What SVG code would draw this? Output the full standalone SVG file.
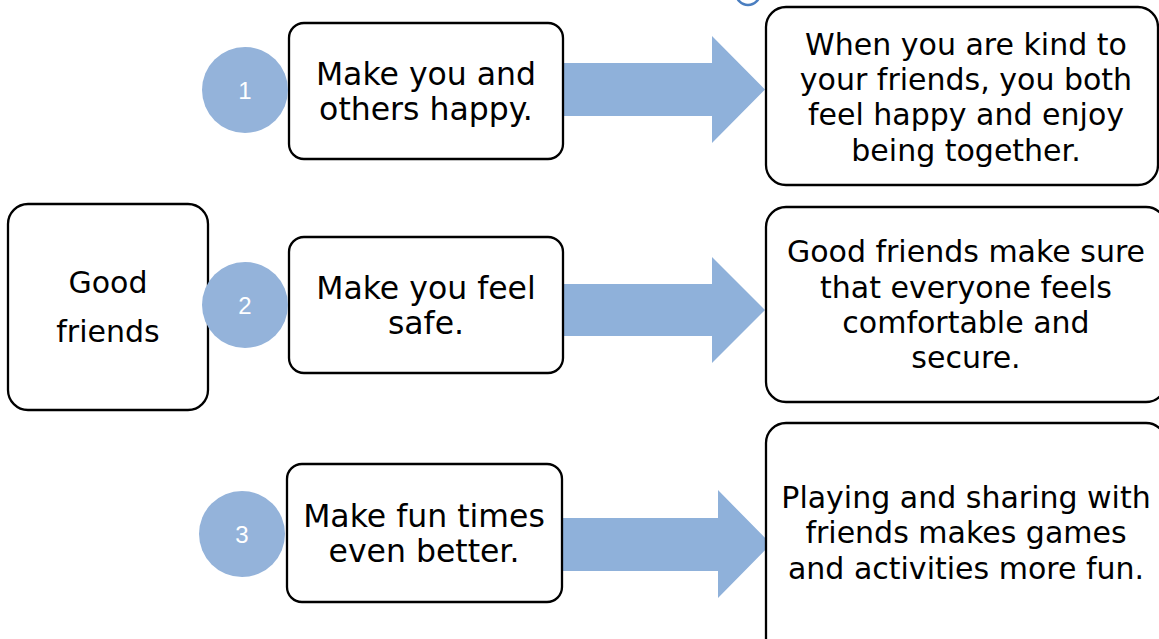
<svg xmlns="http://www.w3.org/2000/svg" width="1159" height="639" viewBox="0 0 1159 639">
<style>
.box{fill:#fff;stroke:#000;stroke-width:2.3}
.num{fill:#94B3DA}
.arrow{fill:#8FB1DA}
.t{font-family:"DejaVu Sans",sans-serif;font-size:30px;fill:#000;text-anchor:middle}
.tm{font-size:31.5px}
.n{font-family:"Liberation Sans",Arial,sans-serif;font-size:24px;fill:#fff;text-anchor:middle}
</style>
<rect width="1159" height="639" fill="#fff"/>
<circle cx="748" cy="-7" r="12" fill="none" stroke="#4A7EC0" stroke-width="2.5"/>
<g id="connectors">
<polygon class="arrow" points="562,63 712,63 712,36 765,89.5 712,143 712,116 562,116"/>
<polygon class="arrow" points="562,284 712,284 712,257 765,310 712,363 712,336 562,336"/>
<polygon class="arrow" points="562,518 718,518 718,490 771,544 718,598 718,571 562,571"/>
</g>
<g id="good-friends">
<rect class="box" x="8" y="204" width="200" height="206" rx="20"/>
<text class="t" x="108" y="293">Good</text>
<text class="t" x="108" y="342">friends</text>
</g>
<g id="box1">
<rect class="box" x="289" y="23" width="274" height="136" rx="15"/>
<text class="t tm" x="426" y="85">Make you and</text>
<text class="t tm" x="426" y="120">others happy.</text>
</g>
<g id="num1">
<circle class="num" cx="245" cy="90" r="43"/>
<text class="n" x="245" y="99">1</text>
</g>
<g id="box2">
<rect class="box" x="289" y="237" width="274" height="136" rx="15"/>
<text class="t tm" x="426" y="299">Make you feel</text>
<text class="t tm" x="426" y="334">safe.</text>
</g>
<g id="num2">
<circle class="num" cx="245" cy="305" r="43"/>
<text class="n" x="245" y="314">2</text>
</g>
<g id="box3">
<rect class="box" x="287" y="464" width="275" height="138" rx="15"/>
<text class="t tm" x="424" y="527">Make fun times</text>
<text class="t tm" x="424" y="562">even better.</text>
</g>
<g id="num3">
<circle class="num" cx="242" cy="534" r="43"/>
<text class="n" x="242" y="543">3</text>
</g>
<g id="detail1">
<rect class="box" x="766" y="7" width="392" height="178" rx="20"/>
<text class="t" x="966" y="55">When you are kind to</text>
<text class="t" x="966" y="90">your friends, you both</text>
<text class="t" x="966" y="125">feel happy and enjoy</text>
<text class="t" x="966" y="161">being together.</text>
</g>
<g id="detail2">
<rect class="box" x="766" y="207" width="400" height="195" rx="20"/>
<text class="t" x="966" y="262">Good friends make sure</text>
<text class="t" x="966" y="298">that everyone feels</text>
<text class="t" x="966" y="333">comfortable and</text>
<text class="t" x="966" y="368">secure.</text>
</g>
<g id="detail3">
<rect class="box" x="766" y="423" width="400" height="240" rx="20"/>
<text class="t" x="966" y="508">Playing and sharing with</text>
<text class="t" x="966" y="543">friends makes games</text>
<text class="t" x="966" y="579">and activities more fun.</text>
</g>
</svg>
